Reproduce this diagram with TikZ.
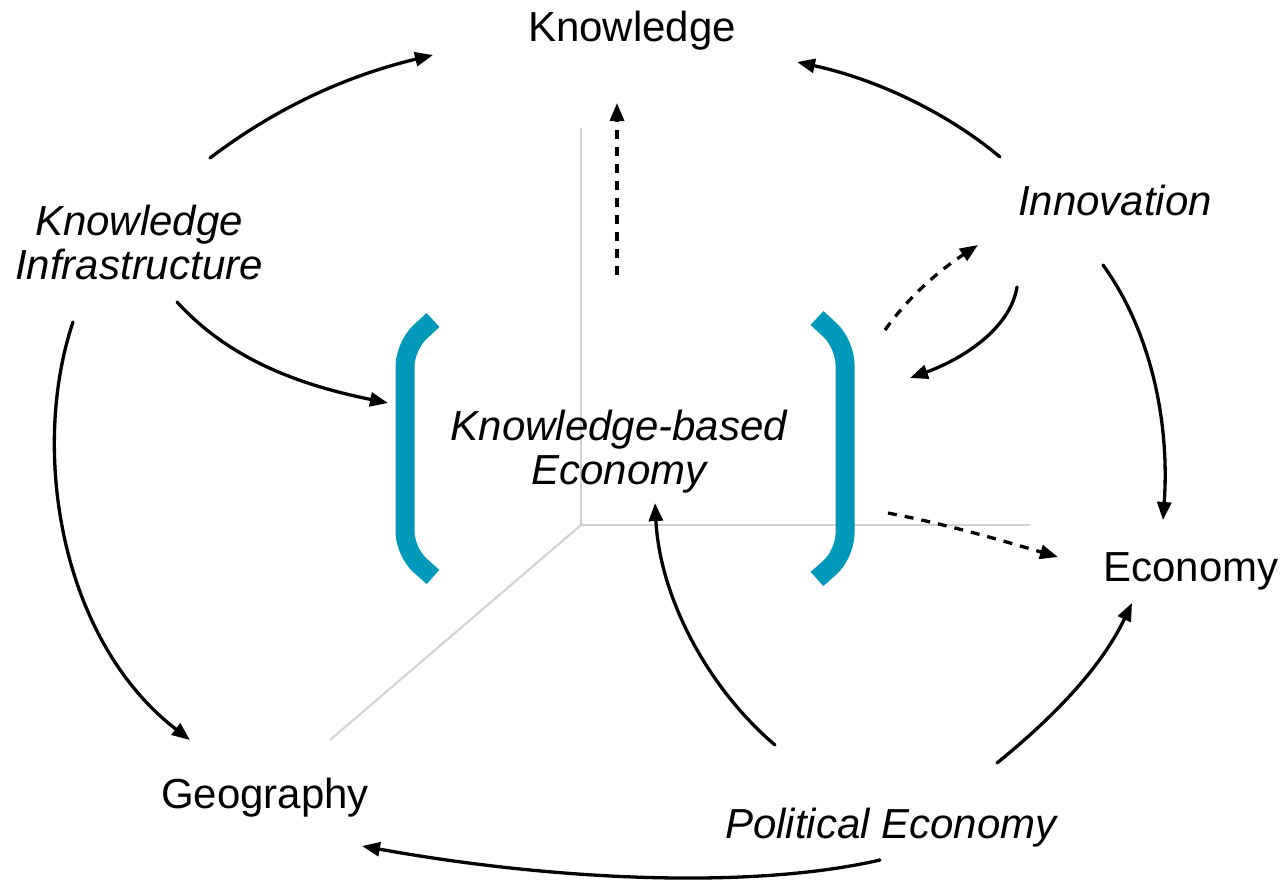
\documentclass[tikz,border=0pt]{standalone}
\usepackage{fontspec}
\setmainfont{Liberation Sans}
\usetikzlibrary{arrows.meta}
\definecolor{bracketcol}{rgb}{0.,0.6,0.73}
\definecolor{axiscol}{rgb}{0.82,0.82,0.82}
\tikzset{
  flow/.style={line width=3.3pt,->},
  hint/.style={line width=3.3pt,->,dash pattern=on 9pt off 8pt,line cap=butt},
  axis/.style={line width=2pt,color=axiscol,line cap=butt},
  brack/.style={line width=19pt,color=bracketcol,line cap=butt,rounded corners=20pt},
  lbl/.style={font=\fontsize{42}{46}\selectfont,align=center,inner sep=0pt},
  ilbl/.style={lbl,font=\fontsize{42}{44}\selectfont\itshape}
}

\begin{document}
\begin{tikzpicture}[line cap=round,line join=round,>={Triangle[length=18pt,width=14pt]},x=1pt,y=-1pt]
\useasboundingbox (0,0) rectangle (1285,881);
% axes
\coordinate (o) at (581,525);
\draw [axis] (o) -- (581,128);
\draw [axis] (o) -- (1030,525);
\draw [axis] (o) -- (330,740);
% brackets
\draw [brack] (433,320) -- (405,346) -- (405,552) -- (433,577);
\draw [brack] (817,318) -- (845,344) -- (845,554) -- (817,579);
% labels
\node [lbl] (know) at (632,31) {Knowledge};
\node [ilbl] (infra) at (139,242) {Knowledge\\Infrastructure};
\node [ilbl] (innov) at (1115,200) {Innovation};
\node [ilbl] (kbe) at (619,452) {Knowledge-based\\Economy};
\node [lbl] (econ) at (1191,571) {Economy};
\node [lbl] (geo) at (265,798) {Geography};
\node [ilbl] (polit) at (891,828) {Political Economy};
% arrow ends
\coordinate (infraA) at (210,158);
\coordinate (infraB) at (177,302);
\coordinate (infraC) at (73,322);
\coordinate (knowA) at (433,55);
\coordinate (knowB) at (797,62);
\coordinate (knowC) at (617,103);
\coordinate (lbrack) at (388,403);
\coordinate (geoA) at (190,740);
\coordinate (geoB) at (362,846);
\coordinate (innovA) at (1000,157);
\coordinate (innovB) at (1103,265);
\coordinate (innovC) at (1017,287);
\coordinate (innovD) at (978,245);
\coordinate (rbrackA) at (910,378);
\coordinate (rbrackB) at (885,330);
\coordinate (rbrackC) at (888,513);
\coordinate (kbeA) at (617,275);
\coordinate (kbeB) at (655,503);
\coordinate (econA) at (1163,520);
\coordinate (econB) at (1132,603);
\coordinate (econC) at (1058,557);
\coordinate (politA) at (775,745);
\coordinate (politB) at (997,763);
\coordinate (politC) at (880,860);
% solid arrows
\draw [flow] (infraA) .. controls (280,105) and (350,75) .. (knowA);
\draw [flow] (innovA) .. controls (950,115) and (880,80) .. (knowB);
\draw [flow] (infraB) .. controls (230,360) and (300,385) .. (lbrack);
\draw [flow] (infraC) .. controls (30,450) and (60,640) .. (geoA);
\draw [flow] (innovB) .. controls (1150,330) and (1170,420) .. (econA);
\draw [flow] (innovC) .. controls (1010,330) and (960,360) .. (rbrackA);
\draw [flow] (politA) .. controls (710,690) and (660,600) .. (kbeB);
\draw [flow] (politB) .. controls (1050,720) and (1100,670) .. (econB);
\draw [flow] (politC) .. controls (750,890) and (550,880) .. (geoB);
% dashed arrows
\draw [hint] (kbeA) -- (knowC);
\draw [hint] (rbrackB) .. controls (910,295) and (940,270) .. (innovD);
\draw [hint] (rbrackC) .. controls (950,525) and (1000,540) .. (econC);
\end{tikzpicture}
\end{document}
